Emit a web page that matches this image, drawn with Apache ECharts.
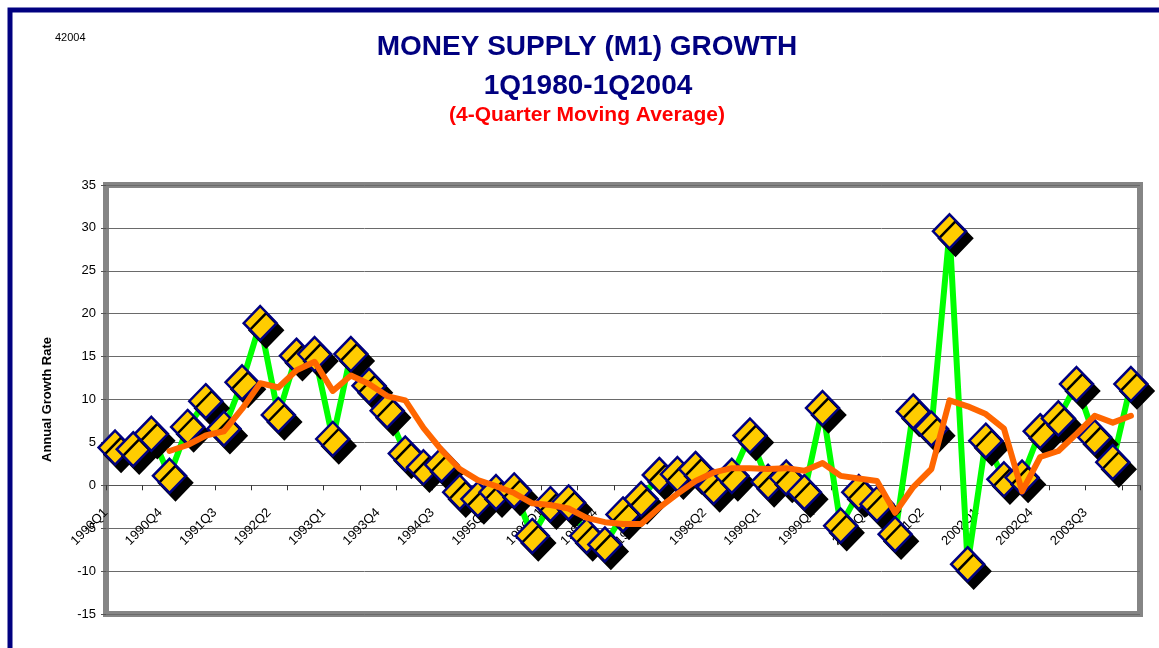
<!DOCTYPE html>
<html>
<head>
<meta charset="utf-8">
<script src="https://cdn.jsdelivr.net/npm/echarts@6/dist/echarts.min.js"></script>
<style>
html,body{margin:0;padding:0;background:#ffffff;}
#chart{width:1159px;height:648px;}
</style>
</head>
<body>
<div id="chart"></div>
<script>
const quarters = [
  '1990Q1','1990Q2','1990Q3','1990Q4',
  '1991Q1','1991Q2','1991Q3','1991Q4',
  '1992Q1','1992Q2','1992Q3','1992Q4',
  '1993Q1','1993Q2','1993Q3','1993Q4',
  '1994Q1','1994Q2','1994Q3','1994Q4',
  '1995Q1','1995Q2','1995Q3','1995Q4',
  '1996Q1','1996Q2','1996Q3','1996Q4',
  '1997Q1','1997Q2','1997Q3','1997Q4',
  '1998Q1','1998Q2','1998Q3','1998Q4',
  '1999Q1','1999Q2','1999Q3','1999Q4',
  '2000Q1','2000Q2','2000Q3','2000Q4',
  '2001Q1','2001Q2','2001Q3','2001Q4',
  '2002Q1','2002Q2','2002Q3','2002Q4',
  '2003Q1','2003Q2','2003Q3','2003Q4',
  '2004Q1'
];

const m1Growth = [
  4.4, 4.2, 6.0, 1.1,
  6.8, 9.8, 6.6, 12.0,
  18.9, 8.2, 15.1, 15.3,
  5.4, 15.3, 11.6, 8.7,
  3.7, 2.1, 2.4, -0.8,
  -1.6, -0.8, -0.6, -5.9,
  -2.2, -2.0, -5.9, -6.9,
  -3.4, -1.6, 1.2, 1.3,
  1.9, -0.2, 1.1, 5.8,
  0.4, 0.9, -0.8, 9.0,
  -4.7, -0.8, -2.2, -5.7,
  8.6, 6.6, 29.6, -9.2,
  5.2, 0.7, 0.9, 6.3,
  7.8, 11.8, 5.6, 2.7,
  11.8
];

const movingAvg = [
  null, null, null, 4.0,
  4.7, 5.8, 6.3, 8.9,
  11.9, 11.4, 13.4, 14.4,
  11.0, 12.8, 11.8, 10.4,
  9.9, 6.7, 4.1, 1.9,
  0.6, -0.1, -0.9, -2.1,
  -2.3, -2.7, -3.8, -4.3,
  -4.5, -4.5, -2.6, -1.0,
  0.5, 1.5, 2.0, 2.0,
  1.9, 2.0, 1.7, 2.6,
  1.1, 0.8, 0.5, -3.2,
  -0.2, 1.9, 9.9, 9.2,
  8.3, 6.6, -0.7, 3.3,
  4.0, 6.0, 8.1, 7.3,
  8.1
];

const yMin = -15;
const yMax = 35;
const yStep = 5;

const FONT = '"Liberation Sans", Arial, sans-serif';

const GRID_TOP = 185;
const GRID_BOTTOM = 34;
const CHART_H = 648;
const plotH = CHART_H - GRID_TOP - GRID_BOTTOM;
// distance from the bottom edge of the plot up to the zero line
const zeroOffset = plotH * (0 - yMin) / (yMax - yMin);

const chart = echarts.init(document.getElementById('chart'), null, {renderer: 'canvas'});

const option = {
  animation: false,
  backgroundColor: '#ffffff',
  title: [
    {
      text: '42004', left: 55, top: 32, padding: 0,
      textStyle: {fontFamily: FONT, fontSize: 11, fontWeight: 'normal', color: '#000000'}
    },
    {
      text: 'MONEY SUPPLY (M1) GROWTH', left: 587, top: 33, padding: 0, textAlign: 'center',
      textStyle: {fontFamily: FONT, fontSize: 28, fontWeight: 'bold', color: '#000080'}
    },
    {
      text: '1Q1980-1Q2004', left: 588, top: 72, padding: 0, textAlign: 'center',
      textStyle: {fontFamily: FONT, fontSize: 28, fontWeight: 'bold', color: '#000080'}
    },
    {
      text: '(4-Quarter Moving Average)', left: 587, top: 105, padding: 0, textAlign: 'center',
      textStyle: {fontFamily: FONT, fontSize: 21, fontWeight: 'bold', color: '#FF0000'}
    }
  ],
  grid: {
    left: 106, right: 19, top: GRID_TOP, bottom: GRID_BOTTOM,
    containLabel: false,
    outerBoundsMode: 'none',
    show: true, borderColor: '#858585', borderWidth: 6, backgroundColor: '#ffffff'
  },
  xAxis: {
    type: 'category',
    data: quarters,
    boundaryGap: true,
    offset: -zeroOffset,
    axisLine: {onZero: false, lineStyle: {color: '#555555', width: 1}},
    axisTick: {show: true, interval: 1, length: 5, lineStyle: {color: '#333333', width: 1}},
    axisLabel: {
      interval: 2, rotate: 45, fontFamily: FONT, fontSize: 13, color: '#000000',
      margin: 16, padding: [0, 13, 0, 0], hideOverlap: false
    },
    splitLine: {show: false}
  },
  yAxis: {
    type: 'value',
    min: yMin, max: yMax, interval: yStep,
    axisLine: {show: false},
    axisTick: {show: true, length: 5, lineStyle: {color: '#555555'}},
    axisLabel: {fontFamily: FONT, fontSize: 13, color: '#000000', margin: 10},
    splitLine: {show: true, lineStyle: {color: '#6a6a6a', width: 1}},
    name: 'Annual Growth Rate',
    nameLocation: 'middle',
    nameGap: 52,
    nameTextStyle: {fontFamily: FONT, fontSize: 13, fontWeight: 'bold', color: '#000000'}
  },
  series: [
    {
      name: 'M1 Growth',
      type: 'line',
      data: m1Growth,
      showAllSymbol: true,
      symbol: 'diamond',
      symbolSize: [33, 34],
      lineStyle: {color: '#00FF00', width: 6, join: 'round'},
      itemStyle: {
        color: '#FFCC00', borderColor: '#000080', borderWidth: 2.5,
        shadowColor: '#000000', shadowBlur: 0, shadowOffsetX: 6, shadowOffsetY: 7
      },
      emphasis: {disabled: true},
      z: 2
    },
    {
      name: '4-Quarter Moving Average',
      type: 'line',
      data: movingAvg,
      symbol: 'none',
      connectNulls: false,
      lineStyle: {color: '#FF6600', width: 6, join: 'round', cap: 'round'},
      emphasis: {disabled: true},
      z: 3
    }
  ],
  graphic: [
    {
      type: 'rect',
      shape: {x: 10, y: 10, width: 1400, height: 900},
      style: {fill: 'none', stroke: '#000080', lineWidth: 5},
      silent: true,
      z: 100
    }
  ]
};

chart.setOption(option);
</script>
</body>
</html>
